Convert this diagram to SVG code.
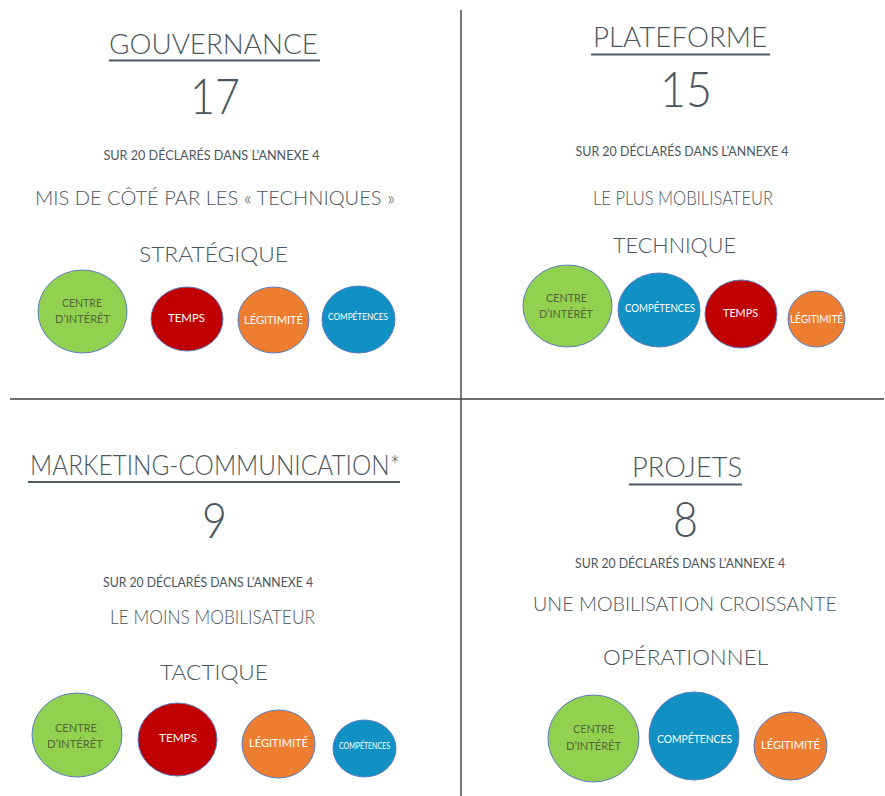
<svg xmlns="http://www.w3.org/2000/svg" width="885" height="796" viewBox="0 0 885 796">
<style>
text{font-family:Lato,"Open Sans","Liberation Sans",sans-serif;font-weight:300;fill:#4a565d;text-anchor:middle}
.t{font-size:27px}
.n{font-size:50px}
.s{font-size:13px;font-weight:400}
.m{font-size:19px}
.k{font-size:22px}
.ul{stroke:#4e5a61;stroke-width:2}
.div{stroke:#404040;stroke-width:1.4}
.c{stroke:#5a7cc0;stroke-width:1}
.g{fill:#92d050}.r{fill:#c00000}.o{fill:#ed7d31}.b{fill:#1190c4}
.gt{font-size:11.5px;fill:#56683a;font-weight:400}
.wt{font-size:11.5px;fill:#ffffff;font-weight:400}
.wt8{font-size:8.5px;fill:#ffffff;font-weight:400}
</style>
<rect width="885" height="796" fill="#ffffff"/>
<g id="dividers">
<line class="div" x1="461" y1="10" x2="461" y2="796"/>
<line class="div" x1="10" y1="399" x2="884" y2="399"/>
</g>

<g id="gouvernance">
<text class="t" x="213.5" y="54" textLength="209" lengthAdjust="spacingAndGlyphs">GOUVERNANCE</text>
<line class="ul" x1="109" y1="60.5" x2="320" y2="60.5"/>
<text class="n" x="215" y="114" textLength="50" lengthAdjust="spacingAndGlyphs">17</text>
<text class="s" x="211.5" y="160" textLength="216" lengthAdjust="spacingAndGlyphs">SUR 20 DÉCLARÉS DANS L’ANNEXE 4</text>
<text class="m" x="215" y="205" textLength="360" lengthAdjust="spacingAndGlyphs">MIS DE CÔTÉ PAR LES « TECHNIQUES »</text>
<text class="k" x="213.5" y="262" textLength="149" lengthAdjust="spacingAndGlyphs">STRATÉGIQUE</text>
<g id="g1-centre"><ellipse class="c g" cx="82.5" cy="311.5" rx="44.5" ry="41.5"/>
<text class="gt" x="82" y="307" textLength="40" lengthAdjust="spacingAndGlyphs">CENTRE</text>
<text class="gt" x="82.5" y="323" textLength="55" lengthAdjust="spacingAndGlyphs">D’INTÉRÊT</text></g>
<g id="g1-temps"><ellipse class="c r" cx="187" cy="319" rx="36" ry="32"/>
<text class="wt" x="186.5" y="322" textLength="37" lengthAdjust="spacingAndGlyphs">TEMPS</text></g>
<g id="g1-legitimite"><ellipse class="c o" cx="273.5" cy="320" rx="35.5" ry="33"/>
<text class="wt" x="273.5" y="324" textLength="59" lengthAdjust="spacingAndGlyphs">LÉGITIMITÉ</text></g>
<g id="g1-competences"><ellipse class="c b" cx="358.5" cy="319.5" rx="36.5" ry="33.5"/>
<text class="wt8" x="358" y="320" textLength="60" lengthAdjust="spacingAndGlyphs">COMPÉTENCES</text></g>
</g>

<g id="plateforme">
<text class="t" x="680" y="47" textLength="174" lengthAdjust="spacingAndGlyphs">PLATEFORME</text>
<line class="ul" x1="591" y1="54.5" x2="770" y2="54.5"/>
<text class="n" x="686" y="107" textLength="52" lengthAdjust="spacingAndGlyphs">15</text>
<text class="s" x="682" y="156" textLength="213" lengthAdjust="spacingAndGlyphs">SUR 20 DÉCLARÉS DANS L’ANNEXE 4</text>
<text class="m" x="683" y="205" textLength="180" lengthAdjust="spacingAndGlyphs">LE PLUS MOBILISATEUR</text>
<text class="k" x="674.5" y="253" textLength="123" lengthAdjust="spacingAndGlyphs">TECHNIQUE</text>
<g id="p-centre"><ellipse class="c g" cx="567.5" cy="306" rx="44.5" ry="41"/>
<text class="gt" x="566.5" y="302" textLength="41" lengthAdjust="spacingAndGlyphs">CENTRE</text>
<text class="gt" x="566" y="318" textLength="54" lengthAdjust="spacingAndGlyphs">D’INTÉRÊT</text></g>
<g id="p-competences"><ellipse class="c b" cx="659" cy="310" rx="41" ry="37"/>
<text class="wt" x="660" y="312" textLength="70" lengthAdjust="spacingAndGlyphs">COMPÉTENCES</text></g>
<g id="p-temps"><ellipse class="c r" cx="741" cy="314" rx="36" ry="34"/>
<text class="wt" x="740.5" y="317" textLength="35" lengthAdjust="spacingAndGlyphs">TEMPS</text></g>
<g id="p-legitimite"><ellipse class="c o" cx="816.5" cy="319" rx="28.5" ry="28"/>
<text class="wt" x="816.5" y="323" textLength="53" lengthAdjust="spacingAndGlyphs">LÉGITIMITÉ</text></g>
</g>

<g id="marketing">
<text class="t" x="215" y="475" textLength="370" lengthAdjust="spacingAndGlyphs">MARKETING-COMMUNICATION*</text>
<line class="ul" x1="28" y1="482" x2="400" y2="482"/>
<text class="n" x="214.5" y="538" textLength="25" lengthAdjust="spacingAndGlyphs">9</text>
<text class="s" x="208" y="587" textLength="210" lengthAdjust="spacingAndGlyphs">SUR 20 DÉCLARÉS DANS L’ANNEXE 4</text>
<text class="m" x="212.5" y="624" textLength="205" lengthAdjust="spacingAndGlyphs">LE MOINS MOBILISATEUR</text>
<text class="k" x="214" y="680" textLength="108" lengthAdjust="spacingAndGlyphs">TACTIQUE</text>
<g id="m-centre"><ellipse class="c g" cx="77" cy="735" rx="45" ry="42"/>
<text class="gt" x="76" y="732" textLength="42" lengthAdjust="spacingAndGlyphs">CENTRE</text>
<text class="gt" x="75" y="748" textLength="56" lengthAdjust="spacingAndGlyphs">D’INTÉRÊT</text></g>
<g id="m-temps"><ellipse class="c r" cx="177.5" cy="739.5" rx="39.5" ry="36.5"/>
<text class="wt" x="178" y="742" textLength="38" lengthAdjust="spacingAndGlyphs">TEMPS</text></g>
<g id="m-legitimite"><ellipse class="c o" cx="278.5" cy="744" rx="36.5" ry="34"/>
<text class="wt" x="278.5" y="747" textLength="59" lengthAdjust="spacingAndGlyphs">LÉGITIMITÉ</text></g>
<g id="m-competences"><ellipse class="c b" cx="364.5" cy="748.5" rx="31.5" ry="28.5"/>
<text class="wt8" x="364.5" y="749" textLength="51" lengthAdjust="spacingAndGlyphs">COMPÉTENCES</text></g>
</g>

<g id="projets">
<text class="t" x="687" y="477" textLength="110" lengthAdjust="spacingAndGlyphs">PROJETS</text>
<line class="ul" x1="629" y1="484.5" x2="742" y2="484.5"/>
<text class="n" x="685.5" y="537" textLength="25" lengthAdjust="spacingAndGlyphs">8</text>
<text class="s" x="680" y="568" textLength="210" lengthAdjust="spacingAndGlyphs">SUR 20 DÉCLARÉS DANS L’ANNEXE 4</text>
<text class="m" x="685" y="611" textLength="304" lengthAdjust="spacingAndGlyphs">UNE MOBILISATION CROISSANTE</text>
<text class="k" x="685.5" y="665" textLength="165" lengthAdjust="spacingAndGlyphs">OPÉRATIONNEL</text>
<g id="pr-centre"><ellipse class="c g" cx="593.5" cy="738.5" rx="45.5" ry="43.5"/>
<text class="gt" x="593.5" y="733" textLength="41" lengthAdjust="spacingAndGlyphs">CENTRE</text>
<text class="gt" x="593.5" y="750" textLength="55" lengthAdjust="spacingAndGlyphs">D’INTÉRÊT</text></g>
<g id="pr-competences"><ellipse class="c b" cx="694" cy="736" rx="45" ry="44"/>
<text class="wt" x="694.5" y="743" textLength="75" lengthAdjust="spacingAndGlyphs">COMPÉTENCES</text></g>
<g id="pr-legitimite"><ellipse class="c o" cx="790.5" cy="746" rx="36.5" ry="34"/>
<text class="wt" x="790.5" y="749" textLength="59" lengthAdjust="spacingAndGlyphs">LÉGITIMITÉ</text></g>
</g>
</svg>
